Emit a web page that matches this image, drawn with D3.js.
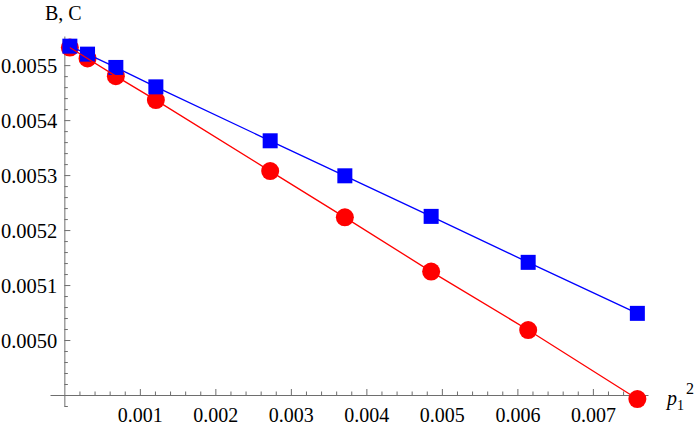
<!DOCTYPE html>
<html>
<head>
<meta charset="utf-8">
<script src="https://cdn.jsdelivr.net/npm/d3@7"></script>
<style>
  html, body { margin: 0; padding: 0; background: #fff; }
  svg { display: block; }
  svg text { font-family: "Liberation Serif", "Times New Roman", Times, "DejaVu Serif", "Noto Serif", serif !important; }
</style>
</head>
<body>
<svg id="chart" width="698" height="426"></svg>
<script>
// ---- data ----
const p2 = [0.000073, 0.000307, 0.000682, 0.001212, 0.002726, 0.003715, 0.004858, 0.006143, 0.007589];
const seriesB = [0.0055345, 0.0055200, 0.0054958, 0.0054605, 0.0053624, 0.0052987, 0.0052249, 0.0051413, 0.0050485];
const seriesC = [0.0055320, 0.0055122, 0.0054800, 0.0054364, 0.0053073, 0.0052231, 0.0051245, 0.0050182, 0.0048927];
const xMajorTicks = [0.001, 0.002, 0.003, 0.004, 0.005, 0.006, 0.007];
const xTickLabels = ["0.001", "0.002", "0.003", "0.004", "0.005", "0.006", "0.007"];
const yMajorTicks = [0.0050, 0.0051, 0.0052, 0.0053, 0.0054, 0.0055];
const yTickLabels = ["0.0050", "0.0051", "0.0052", "0.0053", "0.0054", "0.0055"];

const svg = d3.select("#chart");
const x = d3.scaleLinear().domain([-0.00019, 0.00773]).range([50, 648]);
const y = d3.scaleLinear().domain([0.00488, 0.005553]).range([406, 36]);
const axisColor = "#6e6e6e";
const serif = "'Liberation Serif', 'Times New Roman', Times, 'DejaVu Serif', serif";

const xAxisY = y(0.0049);
const yAxisX = x(0);

// minor tick values
const xMinor = d3.range(1, 39).map(i => i * 0.0002).filter(v => !xMajorTicks.some(m => Math.abs(m - v) < 1e-9));
const yMinor = d3.range(0, 34).map(i => 0.00488 + i * 0.00002).filter(v => !yMajorTicks.some(m => Math.abs(m - v) < 1e-9) && Math.abs(v - 0.0049) > 1e-9);

// X axis
const gx = svg.append("g").attr("transform", `translate(0,${xAxisY})`);
gx.call(d3.axisBottom(x).tickValues(xMajorTicks).tickSizeInner(-6).tickSizeOuter(0)
  .tickPadding(13).tickFormat((d, i) => xTickLabels[i]));
gx.append("g").call(d3.axisBottom(x).tickValues(xMinor).tickSizeInner(-3.5).tickSizeOuter(0).tickFormat(""))
  .select(".domain").remove();
gx.attr("font-family", serif);
gx.selectAll("path,line").attr("stroke", axisColor).attr("stroke-width", 1);
gx.selectAll("text").attr("font-size", 20).attr("fill", "#000").style("font-family", serif);

// Y axis
const gy = svg.append("g").attr("transform", `translate(${yAxisX},0)`);
gy.call(d3.axisLeft(y).tickValues(yMajorTicks).tickSizeInner(-6).tickSizeOuter(0)
  .tickPadding(7).tickFormat((d, i) => yTickLabels[i]));
gy.append("g").call(d3.axisLeft(y).tickValues(yMinor).tickSizeInner(-3.5).tickSizeOuter(0).tickFormat(""))
  .select(".domain").remove();
gy.attr("font-family", serif);
gy.selectAll("path,line").attr("stroke", axisColor).attr("stroke-width", 1);
gy.selectAll("text").attr("font-size", 20.5).attr("fill", "#000").style("font-family", serif)
  .attr("dy", "0.36em");

// series
const ptsB = p2.map((v, i) => [v, seriesB[i]]);
const ptsC = p2.map((v, i) => [v, seriesC[i]]);
const line = d3.line().x(d => x(d[0])).y(d => y(d[1]));

svg.append("g").selectAll("circle").data(ptsC).join("circle")
  .attr("cx", d => x(d[0])).attr("cy", d => y(d[1])).attr("r", 9).attr("fill", "#ff0000");
svg.append("g").selectAll("rect").data(ptsB).join("rect")
  .attr("x", d => x(d[0]) - 7.5).attr("y", d => y(d[1]) - 7.5)
  .attr("width", 15).attr("height", 15).attr("fill", "#0000ff");
svg.append("path").datum(ptsC).attr("d", line).attr("fill", "none")
  .attr("stroke", "#ff0000").attr("stroke-width", 1.3);
svg.append("path").datum(ptsB).attr("d", line).attr("fill", "none")
  .attr("stroke", "#0000ff").attr("stroke-width", 1.3);

// axis labels
svg.append("text").attr("x", 45).attr("y", 20).attr("font-size", 20).attr("fill", "#000")
  .style("font-family", serif).text("B, C");
const xl = svg.append("text").attr("x", 667).attr("y", 405).attr("font-size", 20).attr("fill", "#000")
  .style("font-family", serif);
xl.append("tspan").attr("font-style", "italic").text("p");
xl.append("tspan").attr("font-size", 14).attr("dy", 5).text("1");
xl.append("tspan").attr("font-size", 16).attr("dy", -16).attr("dx", 2).text("2");
</script>
</body>
</html>
